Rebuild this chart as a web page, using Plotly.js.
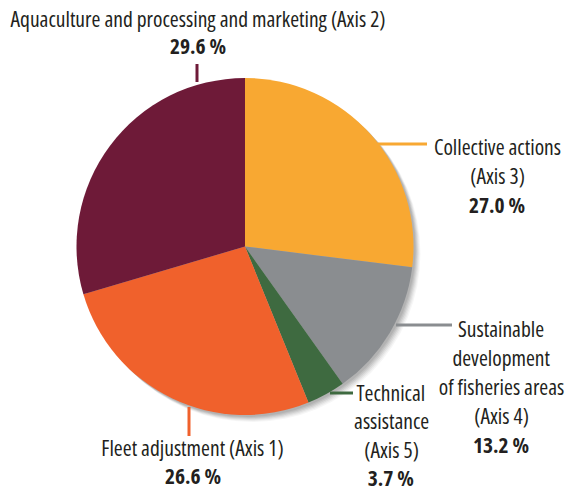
<!DOCTYPE html>
<html><head><meta charset="utf-8">
<script src="https://cdn.plot.ly/plotly-3.0.1.min.js"></script>
<style>html,body{margin:0;padding:0;background:#fff}#chart{width:571px;height:488px}
#chart text{font-stretch:75% !important;}</style>
</head><body><div id="chart"></div>
<script>
const categories = ["Collective actions (Axis 3)", "Sustainable development of fisheries areas (Axis 4)", "Technical assistance (Axis 5)", "Fleet adjustment (Axis 1)", "Aquaculture and processing and marketing (Axis 2)"];
const shares = [27.0, 13.2, 3.7, 26.6, 29.6];
const colors = ["#F8A832", "#8A8D90", "#3E6A40", "#F0612C", "#6E1A38"];
const labelLines = [
  ["Collective actions", "(Axis 3)"],
  ["Sustainable", "development", "of fisheries areas", "(Axis 4)"],
  ["Technical", "assistance", "(Axis 5)"],
  ["Fleet adjustment (Axis 1)"],
  ["Aquaculture and processing and marketing (Axis 2)"]
];

const W = 571, H = 488;
const px = (x) => x / W, py = (y) => 1 - y / H;
const FONT = "Open Sans, Liberation Sans, sans-serif";
const TXT = "#231f20";

const traces = [];
// soft drop shadow layers
[[7,0.035],[6,0.045],[5,0.055],[4,0.065],[3,0.07],[2,0.07]].forEach(([o,a]) => {
  traces.push({type: "pie", values: [1], sort: false, hoverinfo: "skip", textinfo: "none",
    marker: {colors: ["rgba(0,0,0," + a + ")"], line: {width: 0}}, showlegend: false,
    domain: {x: [px(76 + o), px(414 + o)], y: [py(415 + o), py(78 + o)]}});
});
traces.push({
  type: "pie", values: shares, labels: categories, sort: false, direction: "clockwise", rotation: 0,
  textinfo: "none", hoverinfo: "label+value", showlegend: false,
  marker: {colors: colors, line: {width: 0}},
  domain: {x: [px(76), px(414)], y: [py(415), py(78)]}
});

// label block layout: [center x, first line y, line spacing] (pixels)
const blocks = [[497, 146, 29], [501, 328, 29.2], [391, 392, 28.5], [192.5, 447, 28.5], [198, 18.5, 27.5]];
const annotations = [];
blocks.forEach(([x, y0, dy], i) => {
  const lines = labelLines[i].concat(["<b>" + shares[i].toFixed(1) + " %</b>"]);
  lines.forEach((t, k) => {
    annotations.push({xref: "paper", yref: "paper", x: px(x), y: py(y0 + k * dy), xanchor: "center", yanchor: "middle",
      showarrow: false, borderpad: 0, text: t, font: {family: FONT, size: 21.5, color: TXT}});
  });
});

const leaders = [
  [[378, 144], [427, 144]],
  [[396, 325], [452, 325]],
  [[330, 393], [353, 393]],
  [[189, 407], [189, 436]],
  [[197, 64], [197, 82]]
];
const shapes = leaders.map(([a, b], i) => ({type: "line", xref: "paper", yref: "paper",
  x0: px(a[0]), y0: py(a[1]), x1: px(b[0]), y1: py(b[1]), line: {color: colors[i], width: 3}}));

Plotly.newPlot("chart", traces, {
  width: W, height: H, margin: {l: 0, r: 0, t: 0, b: 0},
  paper_bgcolor: "#fff", plot_bgcolor: "#fff", showlegend: false,
  annotations: annotations, shapes: shapes
}, {staticPlot: true});
</script></body></html>
